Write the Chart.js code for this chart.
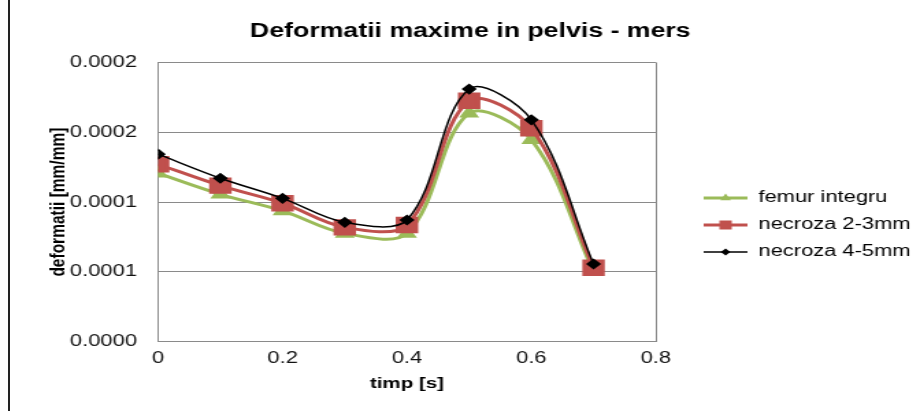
<!DOCTYPE html>
<html>
<head>
<meta charset="utf-8">
<script src="https://cdn.jsdelivr.net/npm/chart.js@4.4.1/dist/chart.umd.min.js"></script>
<style>
    html, body { margin: 0; padding: 0; background: #fff; overflow: hidden; }
    #edge { position: absolute; left: 8px; top: 0; width: 2px; height: 411px; background: #222; }
    /* the reference is a horizontally stretched Excel chart, so draw narrow and stretch */
    #wrap { position: absolute; left: 0; top: 0; width: 672px; height: 411px; transform: scaleX(1.369); transform-origin: 0 0; }
</style>
</head>
<body>
<div id="edge"></div>
<div id="wrap"><canvas id="pelvisChart"></canvas></div>
<script>
// Deformatii maxime in pelvis - mers
const timeValues = [0, 0.1, 0.2, 0.3, 0.4, 0.5, 0.6, 0.7];
const femurIntegru = [0.0001206, 0.0001056, 0.0000937, 0.0000776, 0.0000776, 0.0001636, 0.0001446, 0.0000502];
const necroza23 = [0.0001271, 0.0001118, 0.0000992, 0.0000819, 0.0000836, 0.0001725, 0.0001529, 0.0000530];
const necroza45 = [0.0001343, 0.0001171, 0.0001027, 0.0000855, 0.0000872, 0.0001809, 0.0001589, 0.0000557];
const seriesNames = ['femur integru', 'necroza 2-3mm', 'necroza 4-5mm'];
const yTickLabels = ['0.0000', '0.0001', '0.0001', '0.0002', '0.0002'];
const xTickLabels = ['0', '0.2', '0.4', '0.6', '0.8'];

const FONT = "'Liberation Sans', Arial, sans-serif";
const gridGray = '#8a8a8a';
const LEGEND_WIDTH = 189;

function toPoints(values) {
    return timeValues.map((t, i) => ({ x: t, y: values[i] }));
}

// legend icon: short line with the marker in the middle
function legendIcon(color, width, marker, size) {
    const c = document.createElement('canvas');
    c.width = 56;
    c.height = 16;
    const ctx = c.getContext('2d');
    ctx.strokeStyle = color;
    ctx.fillStyle = color;
    ctx.lineWidth = width;
    ctx.beginPath();
    ctx.moveTo(24, 8);
    ctx.lineTo(56, 8);
    ctx.stroke();
    const mx = 40, my = 8;
    ctx.beginPath();
    if (marker === 'triangle') {
        ctx.moveTo(mx, my - size);
        ctx.lineTo(mx + size * 0.87, my + size * 0.5);
        ctx.lineTo(mx - size * 0.87, my + size * 0.5);
    } else if (marker === 'rect') {
        ctx.rect(mx - size, my - size, size * 2, size * 2);
    } else {
        ctx.moveTo(mx, my - size);
        ctx.lineTo(mx + size, my);
        ctx.lineTo(mx, my + size);
        ctx.lineTo(mx - size, my);
    }
    ctx.closePath();
    ctx.fill();
    return c;
}

const legendIcons = [
    legendIcon('#9bbb59', 3, 'triangle', 4.5),
    legendIcon('#c0504d', 3, 'rect', 4.5),
    legendIcon('#000000', 1.5, 'diamond', 3.5)
];

// the layout caps a side legend at a quarter of the width; give it the room the reference has
const legendWidthPlugin = {
    id: 'legendWidth',
    afterInit(chart) {
        const legend = chart.legend;
        const fit = legend.fit;
        legend.fit = function() {
            fit.call(this);
            this.width = LEGEND_WIDTH;
        };
    }
};

new Chart(document.getElementById('pelvisChart').getContext('2d'), {
    type: 'line',
    plugins: [legendWidthPlugin],
    data: {
        datasets: [{
            label: seriesNames[0],
            data: toPoints(femurIntegru),
            borderColor: '#9bbb59',
            backgroundColor: '#9bbb59',
            borderWidth: 3,
            pointStyle: 'triangle',
            pointRadius: 5.5,
            tension: 0.35,
            order: 2
        }, {
            label: seriesNames[1],
            data: toPoints(necroza23),
            borderColor: '#c0504d',
            backgroundColor: '#c0504d',
            borderWidth: 3,
            pointStyle: 'rect',
            pointRadius: 9.5,
            tension: 0.35,
            order: 1
        }, {
            label: seriesNames[2],
            data: toPoints(necroza45),
            borderColor: '#000000',
            backgroundColor: '#000000',
            borderWidth: 1.5,
            pointStyle: 'rectRot',
            pointRadius: 4.5,
            tension: 0.35,
            order: 0
        }]
    },
    options: {
        responsive: true,
        maintainAspectRatio: false,
        animation: false,
        layout: { padding: { left: 19, right: 4, top: 0, bottom: 14 } },
        plugins: {
            tooltip: { enabled: false },
            title: {
                display: true,
                text: 'Deformatii maxime in pelvis - mers',
                color: '#000',
                font: { family: FONT, size: 19.5, weight: 'bold' },
                padding: { top: 20, bottom: 19 }
            },
            legend: {
                position: 'right',
                title: { display: true, text: '', font: { size: 10 }, padding: { top: 20, bottom: 21 } },
                labels: {
                    usePointStyle: true,
                    pointStyleWidth: 56,
                    padding: 11,
                    color: '#000',
                    font: { family: FONT, size: 16 },
                    generateLabels: chart => chart.data.datasets.map((ds, i) => ({
                        text: ds.label,
                        datasetIndex: i,
                        pointStyle: legendIcons[i],
                        hidden: !chart.isDatasetVisible(i),
                        fillStyle: 'transparent',
                        strokeStyle: 'transparent',
                        lineWidth: 0,
                        fontColor: '#000'
                    }))
                }
            }
        },
        scales: {
            x: {
                type: 'linear',
                min: 0,
                max: 0.8,
                ticks: {
                    stepSize: 0.2,
                    padding: 7,
                    color: '#111',
                    font: { family: FONT, size: 16 },
                    callback: (value, index) => xTickLabels[index]
                },
                grid: {
                    drawTicks: false,
                    color: ctx => (ctx.index === xTickLabels.length - 1 ? gridGray : 'transparent')
                },
                border: { color: gridGray },
                title: {
                    display: true,
                    text: 'timp [s]',
                    color: '#000',
                    font: { family: FONT, size: 15, weight: 'bold' },
                    padding: { top: 0, bottom: 4 }
                }
            },
            y: {
                min: 0,
                max: 0.0002,
                ticks: {
                    stepSize: 0.00005,
                    padding: 15.5,
                    color: '#111',
                    font: { family: FONT, size: 16 },
                    callback: (value, index) => yTickLabels[index]
                },
                grid: { drawTicks: false, color: gridGray },
                border: { color: gridGray },
                title: {
                    display: true,
                    text: 'deformatii [mm/mm]',
                    color: '#000',
                    font: { family: FONT, size: 15.5, weight: 'bold' },
                    padding: { top: 14, bottom: -16 }
                }
            }
        }
    }
});
</script>
</body>
</html>
